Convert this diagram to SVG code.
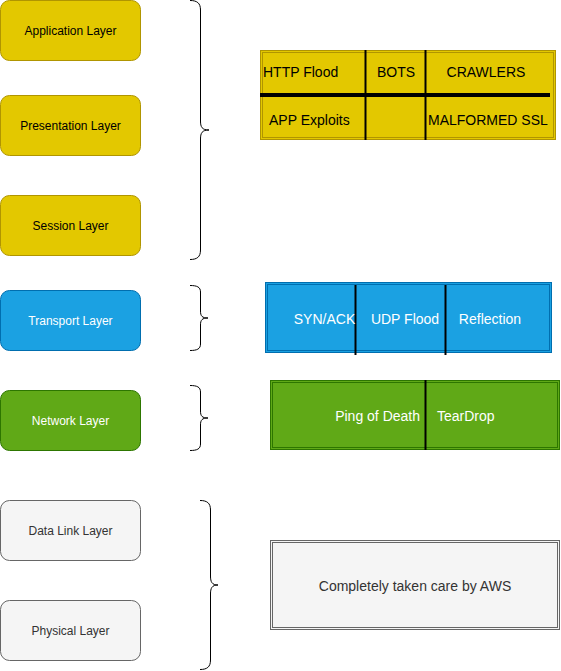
<svg xmlns="http://www.w3.org/2000/svg" width="561" height="671" viewBox="0 0 561 671">
<style>
text{font-family:"Liberation Sans",Arial,Helvetica,sans-serif;}
.lbl{font-size:12px;text-anchor:middle;dominant-baseline:central;}
.cell{font-size:14px;dominant-baseline:central;}
.y{fill:#e3c800;stroke:#b09500;}
.b{fill:#1ba1e2;stroke:#006eaf;}
.g{fill:#60a917;stroke:#2d7600;}
.s{fill:#f5f5f5;stroke:#666666;}
.brace{fill:none;stroke:#000;stroke-width:1;}
.sep{stroke:#000;stroke-width:2;}
</style>
<rect width="561" height="671" fill="#ffffff"/>
<g id="application-layer"><rect class="y" x="0.5" y="0.5" width="140" height="60" rx="9"/><text class="lbl" x="70.5" y="30.5" fill="#000">Application Layer</text></g>
<g id="presentation-layer"><rect class="y" x="0.5" y="95.5" width="140" height="60" rx="9"/><text class="lbl" x="70.5" y="125.5" fill="#000">Presentation Layer</text></g>
<g id="session-layer"><rect class="y" x="0.5" y="195.5" width="140" height="60" rx="9"/><text class="lbl" x="70.5" y="225.5" fill="#000">Session Layer</text></g>
<g id="transport-layer"><rect class="b" x="0.5" y="290.5" width="140" height="60" rx="9"/><text class="lbl" x="70.5" y="320.5" fill="#fff">Transport Layer</text></g>
<g id="network-layer"><rect class="g" x="0.5" y="390.5" width="140" height="60" rx="9"/><text class="lbl" x="70.5" y="420.5" fill="#fff">Network Layer</text></g>
<g id="data-link-layer"><rect class="s" x="0.5" y="500.5" width="140" height="60" rx="9"/><text class="lbl" x="70.5" y="530.5" fill="#333">Data Link Layer</text></g>
<g id="physical-layer"><rect class="s" x="0.5" y="600.5" width="140" height="60" rx="9"/><text class="lbl" x="70.5" y="630.5" fill="#333">Physical Layer</text></g>

<g id="connectors">
<path class="brace" d="M190,0.5 C197,0.5 200.5,3 200.5,10 L200.5,121 C200.5,127 202,130 209,130 M200.5,139 C200.5,133 202,130 209,130 M200.5,139 L200.5,250 C200.5,257 197,259.5 190,259.5"/>
<path class="brace" d="M190,285.5 C197,285.5 200.5,287 200.5,292 L200.5,311 C200.5,316 202,318 208,318 M200.5,325 C200.5,320 202,318 208,318 M200.5,325 L200.5,344 C200.5,349 197,350.5 190,350.5"/>
<path class="brace" d="M190,385.5 C197,385.5 200.5,387 200.5,392 L200.5,411 C200.5,416 202,418 208,418 M200.5,425 C200.5,420 202,418 208,418 M200.5,425 L200.5,444 C200.5,449 197,450.5 190,450.5"/>
<path class="brace" d="M200,500.5 C207,500.5 210.5,503 210.5,510 L210.5,576 C210.5,582 212,585 218,585 M210.5,594 C210.5,588 212,585 218,585 M210.5,594 L210.5,660 C210.5,667 207,669.5 200,669.5"/>
</g>

<g id="app-attacks">
<rect class="y" x="260.5" y="50.5" width="295" height="89"/>
<rect fill="none" stroke="#b09500" x="262.5" y="52.5" width="291" height="85"/>
<line class="sep" x1="365.5" y1="50" x2="365.5" y2="140"/>
<line class="sep" x1="425.5" y1="50" x2="425.5" y2="140"/>
<line stroke="#000" stroke-width="4" x1="260" y1="95" x2="550" y2="95"/>
<text class="cell" x="263" y="72">HTTP Flood</text>
<text class="cell" x="396" y="72" text-anchor="middle">BOTS</text>
<text class="cell" x="486" y="72" text-anchor="middle">CRAWLERS</text>
<text class="cell" x="269" y="120">APP Exploits</text>
<text class="cell" x="428" y="120">MALFORMED SSL</text>
</g>

<g id="transport-attacks">
<rect class="b" x="265.5" y="282.5" width="286" height="70"/>
<rect fill="none" stroke="#006eaf" x="267.5" y="284.5" width="282" height="66"/>
<line class="sep" x1="355.5" y1="285" x2="355.5" y2="355"/>
<line class="sep" x1="445.5" y1="285" x2="445.5" y2="355"/>
<text class="cell" x="324.5" y="319" text-anchor="middle" fill="#fff">SYN/ACK</text>
<text class="cell" x="405" y="319" text-anchor="middle" fill="#fff">UDP Flood</text>
<text class="cell" x="490" y="319" text-anchor="middle" fill="#fff">Reflection</text>
</g>

<g id="network-attacks">
<rect class="g" x="270.5" y="380.5" width="289" height="69"/>
<rect fill="none" stroke="#2d7600" x="272.5" y="382.5" width="285" height="65"/>
<line class="sep" x1="425.5" y1="380" x2="425.5" y2="450"/>
<text class="cell" x="420" y="416" text-anchor="end" fill="#fff">Ping of Death</text>
<text class="cell" x="437" y="416" fill="#fff">TearDrop</text>
</g>

<g id="aws-box">
<rect class="s" x="270.5" y="540.5" width="289" height="89"/>
<rect fill="none" stroke="#666666" x="272.5" y="542.5" width="285" height="85"/>
<text class="cell" x="415" y="586" text-anchor="middle" fill="#333">Completely taken care by AWS</text>
</g>
</svg>
